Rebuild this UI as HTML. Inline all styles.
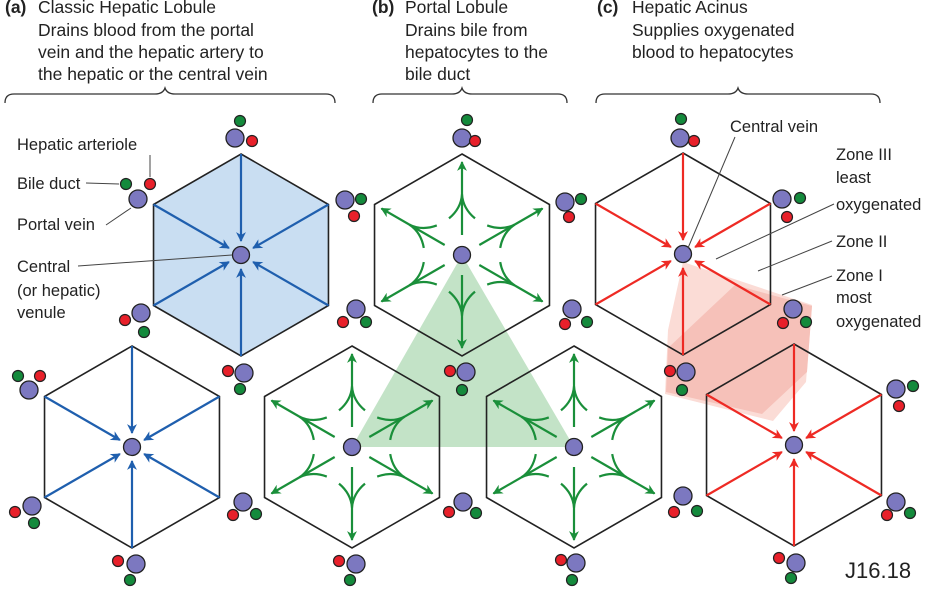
<!DOCTYPE html>
<html><head><meta charset="utf-8"><style>
html,body{margin:0;padding:0;background:#fff;}
svg{display:block;}
text{font-family:"Liberation Sans",sans-serif;fill:#222;}
</style></head><body>
<svg id="s" width="932" height="599" viewBox="0 0 932 599">
<g id="fills">
<polygon points="462,255 352,447 574,447" fill="#c3e3c7"/>
<polygon points="683,262 812,305 806,382 773,421 665,394 668,330" fill="#fbdcd6"/>
<polygon points="735,285 812,306 807,372 762,414 666,392 668,348" fill="#f6c1b9"/>
</g>
<g id="hexes"></g>
<g id="triads"></g>
<g font-size="17.5">
<text x="5" y="13"><tspan font-weight="bold">(a)</tspan><tspan x="38">Classic Hepatic Lobule</tspan></text>
<text x="38" y="36">Drains blood from the portal</text>
<text x="38" y="58">vein and the hepatic artery to</text>
<text x="38" y="80">the hepatic or the central vein</text>
<text x="372" y="13"><tspan font-weight="bold">(b)</tspan><tspan x="405">Portal Lobule</tspan></text>
<text x="405" y="36">Drains bile from</text>
<text x="405" y="58">hepatocytes to the</text>
<text x="405" y="80">bile duct</text>
<text x="597" y="13"><tspan font-weight="bold">(c)</tspan><tspan x="632">Hepatic Acinus</tspan></text>
<text x="632" y="36">Supplies oxygenated</text>
<text x="632" y="58">blood to hepatocytes</text>
</g>
<g fill="none" stroke="#333" stroke-width="1.3">
<path d="M5,103 Q5,94 14,94 L155,94 Q163,94 165,88 Q167,94 175,94 L326,94 Q335,94 335,103"/>
<path d="M373,103 Q373,94 382,94 L452,94 Q460,94 462,88 Q464,94 472,94 L558,94 Q567,94 567,103"/>
<path d="M596,103 Q596,94 605,94 L728,94 Q736,94 738,88 Q740,94 748,94 L871,94 Q880,94 880,103"/>
</g>
<g font-size="16.5">
<text x="17" y="150">Hepatic arteriole</text>
<text x="17" y="189">Bile duct</text>
<text x="17" y="230">Portal vein</text>
<text x="17" y="272">Central</text>
<text x="17" y="296">(or hepatic)</text>
<text x="17" y="318">venule</text>
<text x="730" y="132">Central vein</text>
<text x="836" y="160">Zone III</text>
<text x="836" y="183">least</text>
<text x="836" y="210">oxygenated</text>
<text x="836" y="247">Zone II</text>
<text x="836" y="281">Zone I</text>
<text x="836" y="303">most</text>
<text x="836" y="327">oxygenated</text>
<text x="845" y="578" font-size="22">J16.18</text>
</g>
<g stroke="#444" stroke-width="1" fill="none">
<path d="M150,155 L150,177"/>
<path d="M86,183 L119,184"/>
<path d="M106,225 L131,208"/>
<path d="M78,266 L232,255"/>
<path d="M735,137 L688,248"/>
<path d="M834,204 L716,259"/>
<path d="M832,241 L758,271"/>
<path d="M832,276 L782,295"/>
</g>
</svg>
<script>
// hexagon lobules: centers and style
const hexCX=[241,132,462,352,574,683,794];
const hexCY=[255,447,255,447,447,254,445];
const hexKind=['blue','blue','green','green','green','red','red'];
const hexFill=['#c9def2','none','none','none','none','none','none'];
// triads: purple, red, green centers
const triP=[[235,138],[138,199],[345,200],[141,313],[244,373],[356,309],[29,390],[32,506],[136,564],[243,502],[356,564],[462,138],[565,202],[572,309],[466,372],[463,502],[683,496],[576,563],[680,138],[782,199],[793,309],[686,372],[896,389],[896,502],[796,563]];
const triR=[[252,141],[150,184],[354,216],[125,320],[228,371],[343,322],[40,376],[15,512],[118,561],[233,515],[339,561],[475,141],[569,217],[565,324],[450,371],[449,512],[674,512],[561,560],[694,141],[787,217],[783,323],[670,371],[899,406],[887,515],[779,558]];
const triG=[[240,121],[126,184],[361,199],[144,332],[240,389],[366,322],[18,376],[34,523],[130,580],[256,514],[350,580],[467,120],[581,199],[587,322],[462,390],[476,513],[697,511],[572,580],[681,119],[800,198],[806,322],[682,390],[913,386],[910,513],[791,578]];

const NS='http://www.w3.org/2000/svg';
const R=101;
const col={blue:'#1f5fae',green:'#1a8f3a',red:'#ee2a24'};
function mk(tag,attrs,parent){const e=document.createElementNS(NS,tag);for(const k in attrs)e.setAttribute(k,attrs[k]);parent.appendChild(e);return e;}
const defs=mk('defs',{},document.getElementById('s'));
for(const k in col){
  const m=mk('marker',{id:'ah-'+k,viewBox:'0 0 10 10',refX:'9',refY:'5',markerWidth:'4.5',markerHeight:'4.5',orient:'auto',markerUnits:'strokeWidth'},defs);
  mk('path',{d:'M0,0 L10,5 L0,10 L3,5 Z',fill:col[k]},m);
}
const hg=document.getElementById('hexes');
for(let i=0;i<hexCX.length;i++){
  const cx=hexCX[i],cy=hexCY[i],kind=hexKind[i];
  const g=mk('g',{},hg);
  
  
  const vs=[];
  for(let a=0;a<6;a++){const ang=(-90+60*a)*Math.PI/180;vs.push([cx+R*Math.cos(ang),cy+R*Math.sin(ang)]);}
  const hx=mk('polygon',{points:vs.map(v=>v.join(',')).join(' '),fill:hexFill[i],stroke:'#222','stroke-width':'1.6'},g);
  
  
  const c=col[kind];
  vs.forEach(v=>{
    const dx=v[0]-cx,dy=v[1]-cy,L=Math.hypot(dx,dy),ux=dx/L,uy=dy/L;
    if(kind==='green'){
      const a=mk('line',{x1:cx+ux*20,y1:cy+uy*20,x2:cx+ux*(L-8),y2:cy+uy*(L-8),stroke:c,'stroke-width':'2.2','marker-end':'url(#ah-green)'},g);
      
      
      const jx=cx+ux*L*0.6,jy=cy+uy*L*0.6,px=-uy,py=ux;
      for(const s of [1,-1]){
        const bx=jx-ux*24+px*s*13,by=jy-uy*24+py*s*13;
        const qx=jx-ux*14+px*s*1,qy=jy-uy*14+py*s*1;
        const b=mk('path',{d:`M${jx},${jy} Q${qx},${qy} ${bx},${by}`,fill:'none',stroke:c,'stroke-width':'2.2'},g);
        
        
      }
    } else {
      const a=mk('line',{x1:v[0],y1:v[1],x2:cx+ux*14,y2:cy+uy*14,stroke:c,'stroke-width':'2.2','marker-end':'url(#ah-'+kind+')'},g);
      
      
    }
  });
  const cv=mk('circle',{cx:cx,cy:cy,r:8.5,fill:'#7c78c0',stroke:'#222','stroke-width':'1.3'},g);
  
  
}
const tg=document.getElementById('triads');
for(let i=0;i<triP.length;i++){
  const g=mk('g',{},tg);
  
  
  const p=mk('circle',{cx:triP[i][0],cy:triP[i][1],r:9,fill:'#7c78c0',stroke:'#222','stroke-width':'1.3'},g);
  
  
  const r=mk('circle',{cx:triR[i][0],cy:triR[i][1],r:5.5,fill:'#e8202a',stroke:'#222','stroke-width':'1.2'},g);
  
  
  const gr=mk('circle',{cx:triG[i][0],cy:triG[i][1],r:5.5,fill:'#148a3c',stroke:'#222','stroke-width':'1.2'},g);
  
  
}
</script>
</body></html>
